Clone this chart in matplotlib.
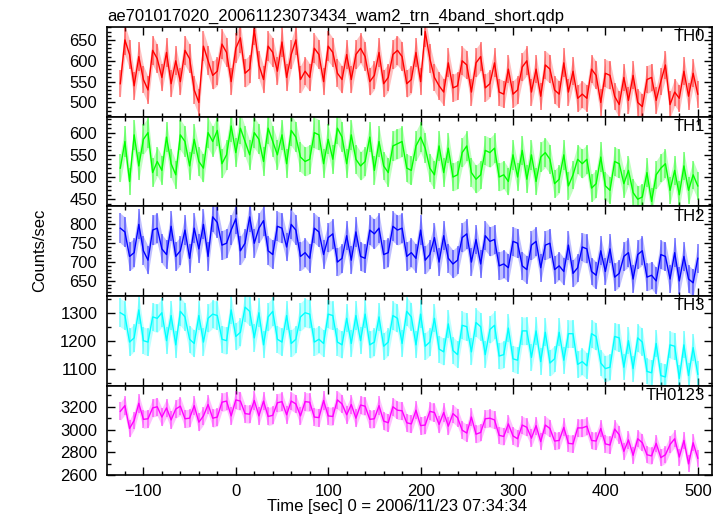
import numpy as np
import matplotlib
matplotlib.use("Agg")
import matplotlib.pyplot as plt
from matplotlib.ticker import MultipleLocator

plt.rcParams['font.family'] = ['Liberation Sans', 'DejaVu Sans']

# time grid of the light curve (sec from 2006/11/23 07:34:34), one value every 5 s
t_start, t_stop, t_step = -125, 500, 5
BIN_SEC = 0.5   # integration time used for the Poisson error bars

th0 = [545, 650, 615, 540, 610, 555, 530, 625, 605, 560,
       620, 545, 600, 550, 625, 605, 530, 500, 635, 600,
       565, 575, 640, 620, 550, 630, 655, 570, 580, 675,
       590, 555, 635, 620, 575, 645, 560, 615, 650, 555,
       575, 560, 630, 615, 550, 635, 620, 570, 555, 615,
       555, 615, 630, 610, 550, 565, 620, 545, 560, 615,
       625, 610, 545, 555, 620, 550, 670, 605, 560, 540,
       525, 595, 535, 540, 600, 590, 525, 595, 610, 535,
       545, 595, 525, 520, 580, 520, 530, 585, 600, 525,
       580, 515, 590, 580, 530, 520, 595, 525, 575, 510,
       520, 510, 580, 565, 500, 570, 565, 515, 495, 560,
       505, 565, 500, 490, 555, 560, 505, 550, 590, 495,
       525, 510, 575, 515, 570, 520]

th1 = [520, 580, 490, 595, 525, 585, 600, 510, 535, 515,
       590, 530, 505, 595, 580, 525, 585, 535, 520, 600,
       580, 605, 530, 550, 615, 555, 610, 580, 550, 600,
       585, 535, 610, 580, 550, 595, 530, 605, 590, 545,
       535, 540, 600, 595, 530, 585, 540, 610, 590, 530,
       595, 540, 525, 535, 590, 515, 580, 525, 510, 570,
       575, 580, 520, 515, 570, 590, 565, 520, 505, 570,
       510, 565, 500, 505, 555, 570, 510, 495, 505, 560,
       555, 565, 500, 505, 490, 550, 500, 560, 495, 550,
       490, 545, 555, 540, 485, 495, 550, 480, 505, 540,
       530, 540, 475, 485, 545, 480, 470, 535, 530, 485,
       515, 465, 450, 455, 510, 445, 505, 520, 530, 470,
       515, 460, 525, 470, 505, 480]

th2 = [790, 780, 715, 725, 800, 730, 705, 785, 790, 735,
       720, 795, 715, 730, 785, 710, 790, 735, 800, 715,
       820, 805, 745, 750, 785, 815, 730, 750, 820, 750,
       790, 810, 730, 720, 795, 790, 740, 800, 785, 715,
       725, 710, 790, 780, 720, 765, 775, 700, 710, 770,
       705, 780, 715, 710, 785, 775, 790, 720, 725, 795,
       785, 790, 715, 725, 710, 785, 705, 720, 765, 700,
       770, 710, 695, 705, 765, 775, 700, 760, 695, 770,
       755, 760, 690, 695, 685, 755, 750, 690, 680, 745,
       755, 685, 745, 750, 680, 690, 675, 745, 670, 685,
       740, 735, 675, 665, 730, 675, 735, 660, 670, 715,
       725, 655, 720, 730, 660, 665, 650, 720, 715, 655,
       725, 650, 715, 655, 645, 710]

th3 = [1300, 1290, 1195, 1210, 1310, 1200, 1195, 1285, 1280, 1300,
       1200, 1290, 1185, 1305, 1285, 1205, 1190, 1290, 1195, 1280,
       1295, 1290, 1205, 1200, 1310, 1215, 1230, 1320, 1305, 1210,
       1300, 1185, 1285, 1305, 1205, 1195, 1290, 1190, 1205, 1285,
       1300, 1295, 1195, 1205, 1190, 1295, 1290, 1195, 1185, 1280,
       1190, 1290, 1200, 1295, 1185, 1195, 1285, 1180, 1195, 1290,
       1280, 1190, 1305, 1285, 1185, 1295, 1180, 1195, 1280, 1170,
       1160, 1260, 1165, 1150, 1255, 1250, 1160, 1265, 1250, 1150,
       1240, 1255, 1145, 1150, 1245, 1135, 1130, 1235, 1235, 1140,
       1235, 1125, 1230, 1120, 1135, 1230, 1130, 1225, 1225, 1115,
       1125, 1110, 1225, 1215, 1120, 1100, 1105, 1215, 1210, 1105,
       1200, 1100, 1210, 1195, 1090, 1085, 1190, 1075, 1070, 1185,
       1180, 1065, 1185, 1075, 1175, 1080]

th0123 = [3160, 3210, 3010, 3080, 3230, 3090, 3095, 3190, 3200, 3110,
          3190, 3085, 3180, 3205, 3095, 3100, 3210, 3065, 3120, 3220,
          3100, 3110, 3240, 3250, 3120, 3260, 3250, 3140, 3135, 3255,
          3120, 3250, 3115, 3125, 3235, 3245, 3130, 3250, 3225, 3120,
          3245, 3240, 3110, 3105, 3255, 3120, 3115, 3260, 3225, 3130,
          3220, 3100, 3215, 3205, 3090, 3095, 3210, 3075, 3060, 3200,
          3170, 3165, 3060, 3050, 3170, 3035, 3040, 3160, 3150, 3045,
          3150, 3030, 3140, 3105, 2995, 2970, 3110, 2960, 2975, 3095,
          3100, 3085, 2950, 2940, 3050, 2945, 2920, 3040, 3020, 2925,
          3035, 2895, 3040, 3010, 2900, 2905, 3020, 2880, 2875, 3015,
          3015, 3030, 2905, 2900, 3010, 2875, 2865, 3005, 2955, 2810,
          2910, 2775, 2920, 2885, 2780, 2770, 2880, 2755, 2780, 2870,
          2920, 2760, 2905, 2700, 2885, 2750]

bands = ["TH0", "TH1", "TH2", "TH3", "TH0123"]
series = [th0, th1, th2, th3, th0123]
colors = ["#ff0000", "#00ff00", "#0000ff", "#00ffff", "#ff00ff"]
ylims = [(466, 681), (434, 636), (610, 848), (1039, 1360), (2600, 3385)]
ymajor = [50, 50, 50, 100, 200]
yminor = [10, 10, 10, 50, 100]

time = np.arange(t_start, t_stop + 1, t_step)

fig = plt.figure(figsize=(7.24, 5.16), dpi=100)
left, right, bottom, top = 107 / 724, 712 / 724, 1 - 475.3 / 516, 1 - 27 / 516
h = (top - bottom) / 5

for i, (name, vals, col) in enumerate(zip(bands, series, colors)):
    ax = fig.add_axes([left, top - (i + 1) * h, right - left, h])
    v = np.array(vals, dtype=float)
    err = np.sqrt(v / BIN_SEC)
    # light error band + individual error bars, then the rate itself
    ax.fill_between(time, v - err, v + err, color=col, alpha=0.25, lw=0)
    ax.errorbar(time, v, yerr=err, fmt='none', ecolor=col, alpha=0.5, elinewidth=1.2)
    ax.plot(time, v, color=col, lw=1.0)
    ax.set_xlim(-139.4, 515.4)
    ax.set_ylim(*ylims[i])
    ax.xaxis.set_major_locator(MultipleLocator(100))
    ax.xaxis.set_minor_locator(MultipleLocator(20))
    ax.yaxis.set_major_locator(MultipleLocator(ymajor[i]))
    ax.yaxis.set_minor_locator(MultipleLocator(yminor[i]))
    ax.tick_params(which='both', direction='in', top=True, right=True, labelsize=12, width=1.0)
    ax.tick_params(which='major', length=6)
    ax.tick_params(which='minor', length=3)
    ax.tick_params(axis='y', pad=7)
    ax.tick_params(axis='x', pad=6)
    for s in ax.spines.values():
        s.set_linewidth(1.2)
    if i < 4:
        ax.tick_params(labelbottom=False)
    ax.text(0.988, 0.89, name, transform=ax.transAxes, ha='right', va='center', fontsize=12)

fig.text(left, 1 - 21 / 516, "ae701017020_20061123073434_wam2_trn_4band_short.qdp",
         ha='left', va='baseline', fontsize=12)
fig.text(40 / 724, 1 - 250 / 516, "Counts/sec", rotation=90, ha='center', va='center', fontsize=12)
fig.text(397.5 / 724, 1 - 506 / 516, "Time [sec] 0 = 2006/11/23 07:34:34", ha='center', va='center', fontsize=12)

fig.savefig("out.png", dpi=100)
